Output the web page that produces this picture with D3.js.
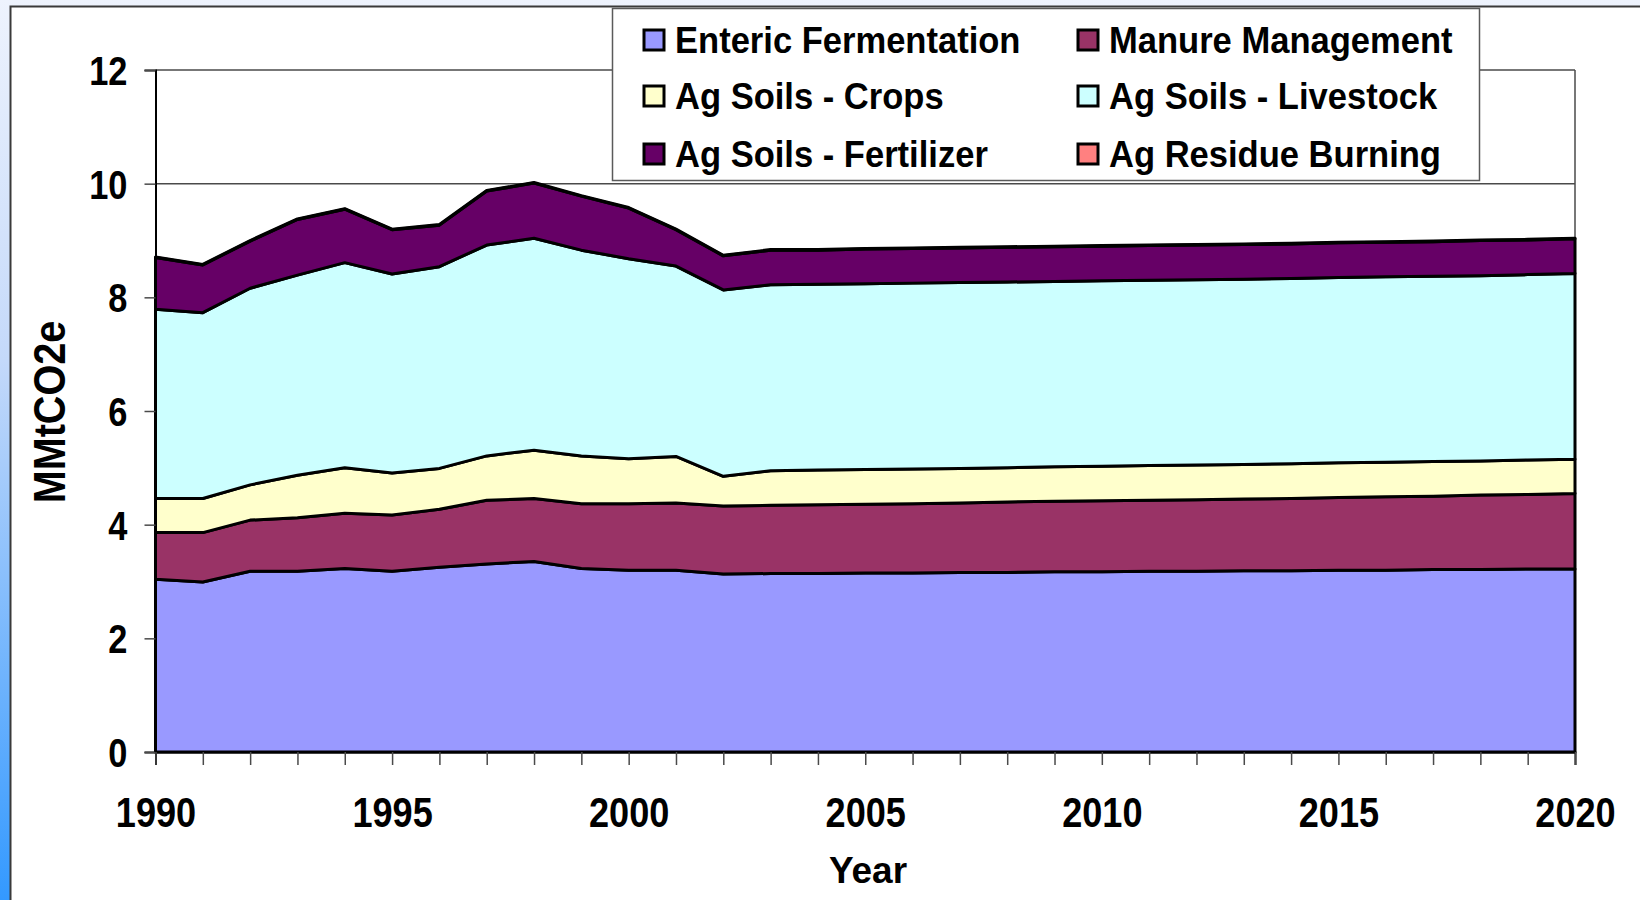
<!DOCTYPE html>
<html>
<head>
<meta charset="utf-8">
<script src="https://cdn.jsdelivr.net/npm/d3@7"></script>
<style>
  body { margin: 0; overflow: hidden; }
  svg { display: block; font-family: "Liberation Sans", Arial, sans-serif; font-weight: bold; }
</style>
</head>
<body>
<svg id="chart" width="1640" height="900"></svg>
<script>
// years on the x axis
const years = d3.range(1990, 2021);

// series values, MMtCO2e
const enteric = [3.04, 2.99, 3.18, 3.18, 3.23, 3.18, 3.25, 3.31, 3.35, 3.23, 3.20, 3.20, 3.13, 3.14, 3.14, 3.15,
  3.15, 3.16, 3.16, 3.17, 3.17, 3.18, 3.18, 3.19, 3.19, 3.20, 3.20, 3.21, 3.21, 3.22, 3.22];
const manure = [0.82, 0.87, 0.90, 0.94, 0.97, 0.99, 1.02, 1.12, 1.11, 1.14, 1.17, 1.18, 1.20, 1.20, 1.21, 1.21,
  1.22, 1.22, 1.24, 1.24, 1.25, 1.25, 1.26, 1.26, 1.27, 1.28, 1.29, 1.29, 1.31, 1.31, 1.33];
const soilsCrops = [0.60, 0.60, 0.62, 0.75, 0.80, 0.74, 0.72, 0.78, 0.85, 0.84, 0.79, 0.82, 0.52, 0.61, 0.61, 0.61,
  0.61, 0.61, 0.60, 0.61, 0.61, 0.61, 0.61, 0.61, 0.61, 0.61, 0.61, 0.61, 0.60, 0.61, 0.60];
const soilsLivestock = [3.33, 3.27, 3.46, 3.52, 3.61, 3.50, 3.55, 3.71, 3.73, 3.62, 3.52, 3.35, 3.28, 3.27, 3.27, 3.27,
  3.27, 3.27, 3.27, 3.26, 3.26, 3.26, 3.26, 3.26, 3.26, 3.26, 3.26, 3.26, 3.26, 3.26, 3.27];
const soilsFertilizer = [0.91, 0.84, 0.83, 0.98, 0.94, 0.78, 0.73, 0.95, 0.97, 0.95, 0.89, 0.64, 0.60, 0.61, 0.60, 0.61,
  0.61, 0.61, 0.61, 0.61, 0.61, 0.61, 0.61, 0.61, 0.61, 0.61, 0.61, 0.61, 0.62, 0.61, 0.61];
const residueBurning = [0.01, 0.01, 0.01, 0.01, 0.01, 0.01, 0.01, 0.01, 0.01, 0.01, 0.01, 0.01, 0.01, 0.01, 0.01, 0.01,
  0.01, 0.01, 0.01, 0.01, 0.01, 0.01, 0.01, 0.01, 0.01, 0.01, 0.01, 0.01, 0.01, 0.01, 0.01];

const seriesNames = ['Enteric Fermentation', 'Manure Management', 'Ag Soils - Crops',
  'Ag Soils - Livestock', 'Ag Soils - Fertilizer', 'Ag Residue Burning'];
const seriesColours = ['#9999ff', '#993366', '#ffffcc', '#ccffff', '#660066', '#ff8080'];
const yTicks = [0, 2, 4, 6, 8, 10, 12];
const xLabelTicks = [1990, 1995, 2000, 2005, 2010, 2015, 2020];

const allSeries = [enteric, manure, soilsCrops, soilsLivestock, soilsFertilizer, residueBurning];
const rows = years.map((yr, i) => {
  const row = { year: yr };
  seriesNames.forEach((name, s) => { row[name] = allSeries[s][i]; });
  return row;
});

const svg = d3.select('#chart');

// page background and the white frame
const defs = svg.append('defs');
const grad = defs.append('linearGradient').attr('id', 'bg').attr('x1', 0).attr('y1', 0).attr('x2', 0).attr('y2', 1);
grad.append('stop').attr('offset', '0%').attr('stop-color', '#eef3fd');
grad.append('stop').attr('offset', '40%').attr('stop-color', '#c4d9fa');
grad.append('stop').attr('offset', '100%').attr('stop-color', '#3399ff');
svg.append('rect').attr('width', 1640).attr('height', 900).attr('fill', 'url(#bg)');
svg.append('rect')
  .attr('x', 10.5).attr('y', 6.5).attr('width', 1700).attr('height', 1000)
  .attr('fill', '#ffffff').attr('stroke', '#3a3a3a').attr('stroke-width', 2);

const x = d3.scaleLinear().domain([1990, 2020]).range([155.5, 1575]);
const y = d3.scaleLinear().domain([0, 12]).range([752, 70]);

// plot area border and gridlines
svg.append('g').selectAll('line')
  .data(yTicks.filter(d => d > 0))
  .join('line')
  .attr('x1', x(1990)).attr('x2', x(2020))
  .attr('y1', d => y(d)).attr('y2', d => y(d))
  .attr('stroke', '#4a4a4a').attr('stroke-width', 1.5);
svg.append('line')
  .attr('x1', x(2020)).attr('x2', x(2020)).attr('y1', y(12)).attr('y2', y(0))
  .attr('stroke', '#4a4a4a').attr('stroke-width', 1.5);

// stacked areas
const stacked = d3.stack().keys(seriesNames)(rows);
const area = d3.area()
  .x(d => x(d.data.year))
  .y0(d => y(d[0]))
  .y1(d => y(d[1]));

svg.append('g').selectAll('path')
  .data(stacked)
  .join('path')
  .attr('d', area)
  .attr('fill', (d, i) => seriesColours[i])
  .attr('stroke', '#000')
  .attr('stroke-width', 3)
  .attr('stroke-linejoin', 'round');

// axes (labels are a narrow bold face, so squeeze them sideways)
const squeeze = 0.86;
const yAxis = svg.append('g')
  .attr('transform', `translate(${x(1990)},0)`)
  .call(d3.axisLeft(y).tickValues(yTicks).tickSize(11).tickFormat(d3.format('d')));
yAxis.select('.domain').attr('stroke', '#000').attr('stroke-width', 2);
yAxis.selectAll('.tick line').attr('stroke', '#4a4a4a').attr('stroke-width', 1.5);
yAxis.selectAll('.tick text')
  .attr('x', -28 / squeeze)
  .attr('dy', '0.36em')
  .attr('transform', `scale(${squeeze},1)`)
  .attr('fill', '#000')
  .style('font-size', '40px')
  .style('font-weight', 'bold')
  .style('font-family', '"Liberation Sans", Arial, sans-serif');

const xAxis = svg.append('g')
  .attr('transform', `translate(0,${y(0)})`)
  .call(d3.axisBottom(x).tickValues(years).tickSize(13)
    .tickFormat(d => xLabelTicks.includes(d) ? d : ''));
xAxis.select('.domain').attr('stroke', '#000').attr('stroke-width', 2);
xAxis.selectAll('.tick line').attr('stroke', '#4a4a4a').attr('stroke-width', 1.5);
xAxis.selectAll('.tick text')
  .attr('y', 60)
  .attr('dy', '0.36em')
  .attr('transform', `scale(${squeeze},1)`)
  .attr('fill', '#000')
  .style('font-size', '42px')
  .style('font-weight', 'bold')
  .style('font-family', '"Liberation Sans", Arial, sans-serif');

// axis titles
svg.append('text')
  .attr('x', 868).attr('y', 883)
  .attr('text-anchor', 'middle')
  .style('font-size', '37px')
  .text('Year');
svg.append('text')
  .attr('transform', 'translate(65,412) rotate(-90) scale(0.9,1)')
  .attr('text-anchor', 'middle')
  .style('font-size', '44px')
  .text('MMtCO2e');

// legend
const legend = svg.append('g');
legend.append('rect')
  .attr('x', 612.5).attr('y', 8.5).attr('width', 867).attr('height', 172)
  .attr('fill', '#fff').attr('stroke', '#5a5a5a').attr('stroke-width', 1.5);
const legendItems = legend.selectAll('g.item')
  .data(seriesNames)
  .join('g')
  .attr('class', 'item')
  .attr('transform', (d, i) => `translate(${i % 2 === 0 ? 643 : 1077},${[40, 96, 154][Math.floor(i / 2)]})`);
legendItems.append('rect')
  .attr('x', 1).attr('y', -10).attr('width', 20).attr('height', 20)
  .attr('fill', (d, i) => seriesColours[i])
  .attr('stroke', '#000').attr('stroke-width', 3);
legendItems.append('text')
  .attr('x', 32 / 0.96).attr('dy', '0.36em')
  .attr('transform', 'scale(0.96,1)')
  .style('font-size', '36px')
  .text(d => d);
</script>
</body>
</html>
